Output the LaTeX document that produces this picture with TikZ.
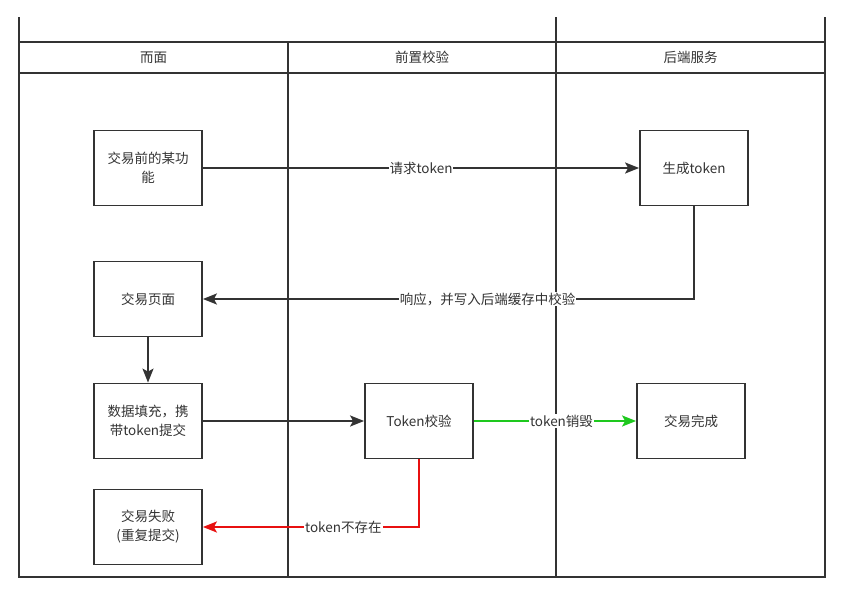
\documentclass[tikz,border=0pt]{standalone}
\usepackage{fontspec}
\newfontfamily\cjk{Noto Sans CJK SC}
\usetikzlibrary{arrows.meta}
\definecolor{ink}{HTML}{333333}
\definecolor{okgreen}{HTML}{1EC81E}
\definecolor{failred}{HTML}{E81010}

\begin{document}
\begin{tikzpicture}[x=1pt, y=-1pt,
  every node/.style = {font=\cjk\fontsize{13.5}{19}\selectfont, text=ink},
  lane/.style = {draw=ink, line width=2pt},
  box/.style = {shape=rectangle, draw=ink, line width=1.8pt, align=center,
    minimum width=108pt, minimum height=75pt, text width=96pt},
  lbl/.style = {fill=white, inner sep=1pt},
  flow/.style = {draw=ink, line width=1.9pt,
    -{Stealth[length=14pt, width=11pt, inset=3pt]}}]
  \useasboundingbox (0,0) rectangle (842,600);
  % swimlanes
  \draw[lane] (19,17) -- (19,577) -- (825,577) -- (825,17);
  \draw[lane] (556,17) -- (556,577);
  \draw[lane] (288,42) -- (288,577);
  \draw[lane] (19,42) -- (825,42);
  \draw[lane] (19,73) -- (825,73);
  \node (lane1) at (153.5,57.5) {而面};
  \node (lane2) at (422,57.5) {前置校验};
  \node (lane3) at (690.5,57.5) {后端服务};
  % steps
  \node[box] (before) at (148,168) {交易前的某功\\能};
  \node[box] (gen)    at (694,168) {生成token};
  \node[box] (page)   at (148,299) {交易页面};
  \node[box] (fill)   at (148,421) {数据填充，携\\带token提交};
  \node[box] (check)  at (419,421) {Token校验};
  \node[box] (done)   at (691,421) {交易完成};
  \node[box] (fail)   at (148,527) {交易失败\\(重复提交)};
  % connectors
  \draw[flow] (before) -- node[lbl] {请求token} (gen);
  \draw[flow] (gen.south) |- node[lbl, pos=0.71] {响应，并写入后端缓存中校验} (page);
  \draw[flow] (page) -- (fill);
  \draw[flow] (fill) -- (check);
  \draw[flow, draw=okgreen, okgreen] (check) -- node[lbl, pos=0.54] {token销毁} (done);
  \draw[flow, draw=failred, failred] (check.south) |- node[lbl, pos=0.675] {token不存在} (fail);
\end{tikzpicture}
\end{document}
